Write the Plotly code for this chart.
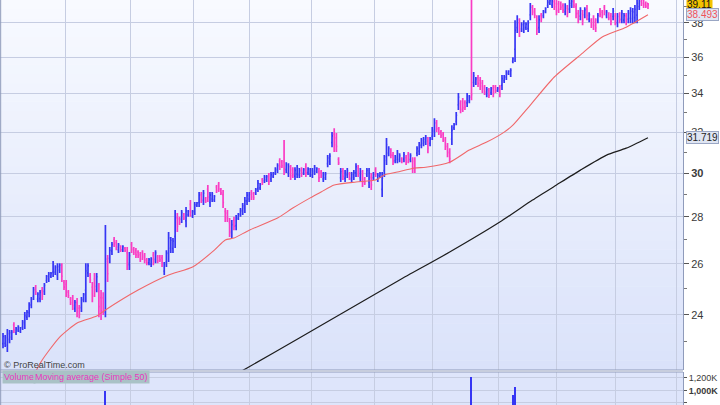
import math
import plotly.graph_objects as go

# ---------------- data ----------------
opens = [22.93,22.94,22.88,23.09,23.17,23.62,23.33,23.43,23.39,23.54,
23.66,23.91,24.08,24.38,24.71,25.05,24.60,24.62,24.94,24.90,
25.33,25.39,25.50,25.67,25.67,25.55,25.75,25.84,25.25,25.18,
24.87,24.60,24.62,24.24,24.46,24.25,24.27,24.59,24.95,25.64,
25.53,25.07,25.39,25.10,24.90,24.66,24.65,24.10,26.10,26.23,
26.53,27.02,26.89,26.58,26.71,26.58,26.65,26.46,25.97,26.80,
26.62,26.56,26.49,26.39,26.47,26.35,26.17,26.04,25.99,26.36,
26.19,26.29,26.30,26.25,25.71,26.08,26.46,26.65,26.64,27.15,
27.96,27.91,27.90,28.09,27.82,28.09,28.56,28.05,28.25,28.51,
28.64,29.00,28.73,28.82,29.25,28.64,28.80,28.76,29.35,29.47,
29.22,29.00,28.24,28.17,27.75,27.31,27.86,27.62,27.95,28.12,
28.24,28.39,28.71,28.80,29.10,29.03,29.08,29.29,29.31,29.69,
29.64,29.68,29.86,29.72,29.85,30.02,30.14,30.57,30.53,30.55,
30.16,30.01,30.20,30.15,29.85,29.95,29.91,30.16,30.01,30.30,
30.02,29.94,29.91,30.05,30.08,30.07,30.05,29.72,29.78,30.45,
30.55,31.47,31.90,31.71,30.66,29.78,30.10,29.75,29.91,29.95,
29.72,29.81,30.01,30.24,29.78,29.94,29.72,29.94,29.58,29.80,
29.78,30.16,29.71,29.85,29.24,30.12,30.78,30.96,31.08,30.85,
30.59,30.66,30.65,30.69,30.67,30.74,30.88,30.65,30.57,30.57,
30.96,31.05,31.35,31.44,31.50,31.55,31.44,31.80,32.04,32.46,
32.16,32.00,31.88,31.59,31.28,31.02,31.65,32.21,32.55,33.40,
33.48,33.58,33.52,33.51,33.62,39.80,34.60,34.59,34.85,34.72,
34.56,34.33,33.97,34.17,34.05,34.30,34.35,34.16,34.30,34.44,
34.70,34.90,35.09,35.05,35.77,36.46,37.72,38.01,37.64,37.63,
37.72,37.67,38.49,38.94,38.75,38.17,37.72,38.46,38.44,38.70,
39.05,39.20,39.08,39.28,39.17,39.16,39.17,39.05,38.69,38.90,
38.84,39.07,39.27,38.97,38.58,38.41,38.55,38.49,38.86,38.23,
38.14,38.25,38.08,38.17,38.76,38.66,38.94,38.44,38.53,38.42,
38.39,38.42,38.01,38.49,38.23,38.17,38.42,38.23,38.28,38.26,
38.32,38.47,39.00,39.46,39.39,39.20,39.20]

highs = [23.32,23.25,23.47,23.43,23.43,23.72,23.54,23.61,23.54,23.80,
24.10,24.18,24.48,24.68,25.07,25.15,24.87,24.95,25.07,25.23,
25.55,25.67,25.67,26.12,25.95,26.03,26.03,26.03,25.35,25.35,
24.95,24.68,24.76,24.56,24.64,24.37,24.68,24.84,26.03,26.03,
25.63,25.27,25.63,25.63,25.23,24.95,24.87,27.64,26.37,26.70,
26.91,27.13,27.00,26.87,26.78,26.78,26.70,26.70,26.49,26.91,
26.70,26.66,26.57,26.49,26.57,26.45,26.24,26.24,26.28,26.49,
26.57,26.37,26.37,26.37,26.08,26.57,27.34,27.13,27.08,28.30,
28.17,28.00,28.30,28.17,28.44,28.30,28.75,28.30,28.66,28.66,
29.12,29.12,29.21,28.89,29.44,29.12,29.12,28.98,29.44,29.58,
29.30,29.21,28.39,28.30,27.95,27.86,28.00,28.08,28.17,28.39,
28.62,28.89,29.12,29.12,29.21,29.12,29.30,29.67,29.53,29.77,
29.91,29.91,30.00,30.05,30.05,30.28,30.47,30.71,30.62,31.60,
30.52,30.47,30.38,30.28,30.28,30.38,30.24,30.28,30.24,30.47,
30.28,30.24,30.24,30.38,30.28,30.24,30.14,30.05,30.05,30.86,
30.95,32.00,32.20,31.95,30.76,30.24,30.24,30.14,30.24,30.05,
30.05,30.14,30.47,30.38,30.24,30.14,29.81,30.24,30.24,30.00,
30.05,30.28,30.00,30.05,30.05,30.86,31.70,31.30,31.20,31.01,
30.86,31.11,30.95,30.76,31.01,30.86,31.01,30.95,30.76,30.76,
31.30,31.50,31.70,31.75,31.85,31.75,31.75,32.26,32.71,32.61,
32.26,32.10,32.00,31.75,31.45,31.20,32.35,32.46,33.03,34.03,
33.65,33.76,33.65,34.03,33.92,41.00,35.17,34.90,35.01,34.90,
34.73,34.46,34.35,34.30,34.35,34.46,34.46,34.35,34.46,35.01,
35.01,35.28,35.28,35.39,36.01,38.17,38.47,38.29,38.05,38.17,
38.05,38.17,39.22,39.09,38.90,38.47,38.47,38.60,38.78,38.96,
39.40,39.45,39.50,39.45,39.40,39.35,39.30,39.20,39.20,39.09,
39.40,39.45,39.40,39.20,38.78,38.96,38.78,38.96,39.09,38.65,
38.29,38.47,38.29,38.60,38.90,38.78,39.09,38.78,38.65,38.60,
38.90,38.60,38.60,38.65,38.78,38.60,38.60,38.78,38.96,38.90,
39.09,39.60,39.50,39.60,39.55,39.30,39.22]

lows = [22.77,22.81,22.63,22.95,23.06,23.32,23.25,23.36,23.32,23.43,
23.47,23.80,23.91,24.25,24.56,24.76,24.48,24.48,24.56,24.76,
25.23,25.27,25.43,25.47,25.55,25.35,25.63,25.27,24.95,24.68,
24.64,24.37,24.18,24.10,23.91,23.87,24.10,24.48,24.48,25.47,
25.23,24.48,24.68,24.87,23.91,23.80,23.99,23.91,25.27,26.03,
26.37,26.70,26.57,26.45,26.49,26.49,26.49,25.75,25.75,26.45,
26.37,26.24,26.24,26.08,26.16,26.03,25.95,25.95,25.87,25.95,
26.03,26.03,26.08,25.87,25.55,25.87,26.08,26.45,26.45,26.66,
27.34,27.64,27.73,27.86,27.55,28.00,28.00,27.95,28.08,28.44,
28.44,28.62,28.53,28.62,28.66,28.44,28.66,28.66,29.07,29.12,
28.98,28.39,27.77,27.77,27.13,27.08,27.42,27.42,27.86,28.00,
28.08,28.17,28.53,28.66,28.75,28.75,28.98,29.12,29.21,29.44,
29.53,29.58,29.44,29.58,29.77,29.91,30.00,30.14,30.24,29.91,
30.00,29.81,29.67,29.77,29.67,29.77,29.77,29.81,29.91,29.81,
29.91,29.81,29.77,29.91,30.00,29.58,29.77,29.58,29.67,30.28,
30.38,31.25,31.01,31.01,30.38,29.58,29.67,29.58,29.77,29.67,
29.58,29.67,29.81,29.81,29.58,29.35,29.44,29.81,29.30,29.21,
29.67,29.81,29.58,29.77,28.89,29.81,30.38,30.81,30.71,30.38,
30.47,30.47,30.52,30.47,30.52,30.38,30.47,30.52,30.00,30.00,
30.81,30.86,31.20,31.30,31.35,30.95,31.30,31.60,31.75,32.00,
31.85,31.70,31.50,31.11,30.76,30.47,31.35,32.10,32.35,33.13,
32.97,33.03,33.13,33.29,33.49,33.65,34.35,34.46,34.35,34.19,
34.03,33.92,33.81,33.76,33.92,33.81,34.03,34.08,33.81,34.19,
34.57,34.73,35.01,34.90,35.67,35.73,37.40,37.17,37.46,37.40,
37.58,37.46,38.17,38.47,38.29,37.28,37.40,38.05,38.29,38.59,
38.90,39.09,38.90,38.78,38.47,38.60,38.78,38.60,38.47,38.35,
38.60,38.90,38.90,38.29,37.99,38.17,37.87,38.29,38.17,38.05,
37.70,37.58,37.46,37.99,38.35,38.29,38.47,38.29,38.17,37.87,
38.17,37.87,37.75,37.99,37.99,37.99,37.87,37.99,37.99,37.99,
37.99,37.99,38.78,39.03,38.90,38.90,38.84]

closes = [23.20,23.15,23.30,23.33,23.35,23.44,23.48,23.56,23.50,23.72,
23.97,24.10,24.37,24.59,24.97,24.88,24.79,24.86,24.71,25.14,
25.49,25.59,25.62,25.99,25.87,25.89,25.95,25.50,25.07,24.88,
24.73,24.46,24.35,24.47,24.13,24.02,24.56,24.77,25.72,25.92,
25.35,24.72,24.97,25.48,24.31,24.15,24.25,26.20,25.60,26.57,
26.80,26.83,26.70,26.78,26.58,26.72,26.55,26.04,26.34,26.59,
26.47,26.37,26.34,26.20,26.28,26.16,26.04,26.18,26.20,26.11,
26.46,26.13,26.17,26.02,25.97,26.43,27.09,26.99,26.95,27.97,
27.59,27.75,28.19,27.95,28.26,28.24,28.22,28.23,28.54,28.62,
28.98,28.77,29.07,28.70,28.89,28.98,29.03,28.92,29.18,29.26,
29.08,28.64,27.96,27.93,27.38,27.66,27.59,27.91,28.09,28.29,
28.49,28.71,28.97,29.01,28.89,28.86,29.22,29.53,29.45,29.54,
29.82,29.83,29.61,29.93,29.98,30.19,30.35,30.31,30.35,30.20,
30.39,30.31,29.88,29.92,30.13,30.23,30.12,29.95,30.16,30.01,
30.19,30.13,30.12,30.26,30.21,29.78,29.88,29.93,29.95,30.72,
30.81,31.81,31.37,31.29,30.49,30.07,29.84,30.00,30.12,29.78,
29.93,30.02,30.31,29.98,30.07,29.59,29.55,30.13,30.00,29.45,
29.95,29.95,29.89,29.98,29.76,30.60,31.37,31.18,30.86,30.57,
30.76,30.95,30.84,30.56,30.89,30.52,30.63,30.84,30.23,30.23,
31.18,31.34,31.57,31.64,31.72,31.19,31.64,32.10,32.47,32.18,
31.97,31.82,31.65,31.30,30.97,30.69,32.10,32.37,32.86,33.81,
33.17,33.25,33.29,33.85,33.81,33.95,34.97,34.79,34.55,34.40,
34.24,34.08,34.22,33.92,34.24,34.00,34.16,34.28,34.00,34.81,
34.90,35.14,35.21,35.27,35.93,37.56,38.20,37.51,37.90,37.98,
37.93,37.99,38.96,38.66,38.47,37.64,38.20,38.22,38.66,38.87,
39.27,39.36,39.35,38.98,38.75,38.83,38.94,38.78,39.02,38.57,
39.20,39.31,39.05,38.56,38.23,38.76,38.14,38.79,38.45,38.50,
37.88,37.85,37.71,38.45,38.52,38.44,38.66,38.66,38.31,38.09,
38.72,38.09,38.39,38.19,38.58,38.45,38.09,38.58,38.72,38.67,
38.82,39.20,39.32,39.20,39.10,39.02,39.11]

ma50_idx = [15, 18, 26, 34, 43, 47, 62, 76, 87, 97, 102, 106, 113, 126, 133, 141, 146,
            152, 162, 171, 175, 181, 189, 194, 205, 214, 222, 230, 234, 242, 253, 266,
            275, 286, 296]
ma50_val = [21.95, 22.35, 23.17, 23.69, 23.95, 24.18, 24.95, 25.55, 25.87, 26.57, 27.00,
            27.08, 27.42, 27.95, 28.39, 28.85, 29.12, 29.44, 29.58, 29.67, 29.91, 30.05,
            30.24, 30.28, 30.52, 31.11, 31.50, 32.00, 32.35, 33.39, 34.90, 36.24, 37.17,
            37.75, 38.493]

ma200_idx = [108, 112, 136, 159, 182, 205, 228, 243, 254, 265, 277, 286, 296]
ma200_val = [21.90, 22.07, 23.14, 24.22, 25.35, 26.49, 27.77, 28.75, 29.44, 30.14,
             30.86, 31.20, 31.719]

vol_idx = [47, 215, 234, 235]
vol_val = [990000, 1220000, 920000, 1060000]

price_ticks = [24, 26, 28, 30, 32, 34, 36, 38]
price_minor = [23, 25, 27, 29, 31, 33, 35, 37, 39]
vol_ticks = [800000, 1000000, 1200000]
vol_ticktext = ["800,000", "<b>1,000K</b>", "1,200K"]
month_starts = [28.9, 58.3, 87.2, 112.9, 141.8, 170.7, 196.9, 227.2, 253.8, 281.3, 309.3]

last_price = 39.11
last_ma50 = 38.493
last_ma200 = 31.719

# ---------------- style ----------------
BLUE = "#3636f4"
PINK = "#fa3cc4"
W, H = 720, 405
PLOT_R = 683
PRICE_BOTTOM = 370
VOL_TOP = 372
FONT = "Liberation Sans, Arial, sans-serif"

x = list(range(len(closes)))
xr = [-3 / 2.179, (PLOT_R - 3) / 2.179]

fig = go.Figure()
fig.add_trace(go.Ohlc(
    x=x, open=opens, high=highs, low=lows, close=closes,
    increasing=dict(line=dict(color=BLUE, width=1.7)),
    decreasing=dict(line=dict(color=PINK, width=1.7)),
    tickwidth=0.45, xaxis="x", yaxis="y", hoverinfo="skip", showlegend=False))
fig.add_trace(go.Scatter(x=ma50_idx, y=ma50_val, mode="lines",
                         line=dict(color="#f0676a", width=1.1, shape="spline", smoothing=0.6),
                         xaxis="x", yaxis="y", hoverinfo="skip", showlegend=False))
fig.add_trace(go.Scatter(x=ma200_idx, y=ma200_val, mode="lines",
                         line=dict(color="#1c1c1c", width=1.2, shape="spline", smoothing=0.6),
                         xaxis="x", yaxis="y", hoverinfo="skip", showlegend=False))
fig.add_trace(go.Bar(x=vol_idx, y=vol_val, width=0.7, marker=dict(color=BLUE, line=dict(width=0)),
                     xaxis="x2", yaxis="y2", hoverinfo="skip", showlegend=False))

PW = PLOT_R  # plot-area width in px (paper x spans this)
dom_x = [0, 1]
price_dom = [(H - PRICE_BOTTOM) / H, 1]
vol_dom = [0, (H - VOL_TOP) / H]

grid = "#c6cde2"
axis_line = "#8f9bbb"
tickfont = dict(family=FONT, size=11, color="#3a3a3a")

fig.update_layout(
    width=W, height=H, autosize=False,
    margin=dict(l=0, r=W - PLOT_R, t=0, b=0, pad=0, autoexpand=False),
    paper_bgcolor="#ffffff",
    plot_bgcolor="rgba(0,0,0,0)",
    bargap=0,
    xaxis=dict(domain=dom_x, range=xr, anchor="y", tickvals=month_starts, automargin=False,
               showticklabels=False, ticks="", showgrid=True, gridcolor=grid, gridwidth=1,
               zeroline=False, showline=False, rangeslider=dict(visible=False)),
    yaxis=dict(domain=price_dom, type="log", automargin=False,
               range=[math.log10(22.0), math.log10(39.40)],
               side="right", tickvals=price_ticks,
               ticktext=[("<b>%d</b>" % v if v == 30 else str(v)) for v in price_ticks],
               ticks="outside", ticklen=5, tickcolor="#555", tickwidth=1,
               minor=dict(tickvals=price_minor, ticks="outside", ticklen=3, tickcolor="#777", showgrid=False),
               showgrid=True, gridcolor=grid, gridwidth=1, zeroline=False,
               showline=True, linecolor=axis_line, linewidth=1, tickfont=tickfont,
               anchor="x"),
    xaxis2=dict(domain=dom_x, range=xr, anchor="y2", tickvals=month_starts, automargin=False,
                showticklabels=False, ticks="", showgrid=True, gridcolor=grid,
                zeroline=False, showline=False, matches="x"),
    yaxis2=dict(domain=vol_dom, range=[768000, 1294000], side="right", automargin=False,
                tickvals=vol_ticks, ticktext=vol_ticktext, ticks="outside", ticklen=3,
                tickcolor="#555", showgrid=True, gridcolor=grid, zeroline=False,
                showline=True, linecolor=axis_line, linewidth=1,
                tickfont=dict(family=FONT, size=9, color="#3a3a3a"), anchor="x2"),
)

# background gradient bands (style only)
shapes = []
def lerp(c1, c2, t):
    return "rgb(%d,%d,%d)" % tuple(round(a + (b - a) * t) for a, b in zip(c1, c2))
top_c, bot_c = (248, 250, 255), (218, 226, 250)
nb = 40
for k in range(nb):
    y0 = price_dom[0] + (price_dom[1] - price_dom[0]) * k / nb
    y1 = price_dom[0] + (price_dom[1] - price_dom[0]) * (k + 1) / nb
    t = 1 - (k + 0.5) / nb
    shapes.append(dict(type="rect", xref="paper", yref="paper", x0=0, x1=1,
                       y0=y0, y1=y1 + 0.001, fillcolor=lerp(top_c, bot_c, t),
                       line=dict(width=0), layer="below"))
shapes.append(dict(type="rect", xref="paper", yref="paper", x0=0, x1=1,
                   y0=vol_dom[0], y1=vol_dom[1], fillcolor="rgb(222,229,251)",
                   line=dict(width=0), layer="below"))
# panel borders
for yy in [price_dom[0], vol_dom[1]]:
    shapes.append(dict(type="line", xref="paper", yref="paper", x0=0, x1=1,
                       y0=yy, y1=yy, line=dict(color="#8f9bbb", width=1)))
shapes.append(dict(type="line", xref="paper", yref="paper", x0=0.001, x1=0.001,
                   y0=0, y1=1, line=dict(color="#8f9bbb", width=1)))
fig.update_layout(shapes=shapes)

ann = []
lab_x = 1 + 3 / PW
ann.append(dict(x=lab_x, y=math.log10(last_price), xref="paper", yref="y", text="39.11",
                showarrow=False, xanchor="left", yanchor="middle", bgcolor="#f3c300",
                borderpad=0, font=dict(family=FONT, size=10, color="#111")))
ann.append(dict(x=lab_x, y=math.log10(last_ma50), xref="paper", yref="y", text="38.493",
                showarrow=False, xanchor="left", yanchor="middle", bgcolor="#dfe5f2",
                bordercolor="#9aa6c4", borderwidth=1, borderpad=0,
                font=dict(family=FONT, size=10, color="#f0525a")))
ann.append(dict(x=lab_x, y=math.log10(last_ma200), xref="paper", yref="y", text="31.719",
                showarrow=False, xanchor="left", yanchor="middle", bgcolor="#dfe5f2",
                bordercolor="#9aa6c4", borderwidth=1, borderpad=0,
                font=dict(family=FONT, size=10, color="#222")))
ann.append(dict(x=2 / PW, y=(H - 365) / H, xref="paper", yref="paper",
                text="© ProRealTime.com", showarrow=False, xanchor="left", yanchor="middle",
                font=dict(family=FONT, size=9, color="#444")))
ann.append(dict(x=2 / PW, y=(H - 377) / H, xref="paper", yref="paper", text="Volume",
                showarrow=False, xanchor="left", yanchor="middle", bgcolor="#a9c2c6",
                borderpad=1, font=dict(family=FONT, size=9, color="#e838c0")))
ann.append(dict(x=33 / PW, y=(H - 377) / H, xref="paper", yref="paper",
                text="Moving average (Simple 50)", showarrow=False, xanchor="left",
                yanchor="middle", bgcolor="#a9c2c6", borderpad=1,
                font=dict(family=FONT, size=9, color="#e838c0")))
fig.update_layout(annotations=ann)

fig.write_html(
    "out.html",
    config={"responsive": False, "displayModeBar": False},
    default_width="720px", default_height="405px",
    post_script="document.body.style.margin='0';document.body.style.overflow='hidden';",
)
